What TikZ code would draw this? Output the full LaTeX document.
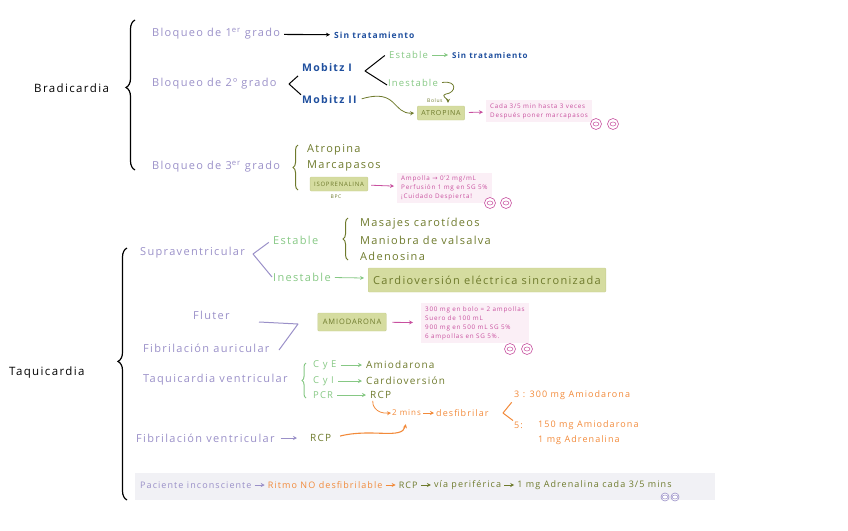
\documentclass[tikz,border=0pt]{standalone}
\usepackage{fontspec}
\setmainfont{Open Sans}[LetterSpace=12]
\newfontfamily\symfont{DejaVu Sans}
\newcommand{\flecha}{{\symfont →}}
\usetikzlibrary{arrows.meta,decorations.pathreplacing,positioning}

\definecolor{cLav}{HTML}{9A90C8}
\definecolor{cBlue}{HTML}{1F4F9E}
\definecolor{cGrn}{HTML}{86C884}
\definecolor{cOlv}{HTML}{6E7A2C}
\definecolor{cOlvFill}{HTML}{D5DCA0}
\definecolor{cPnk}{HTML}{C8509F}
\definecolor{cPnkFill}{HTML}{FBEFF6}
\definecolor{cOrg}{HTML}{F28A3A}
\definecolor{cGry}{HTML}{F1F1F5}

\tikzset{
  txt/.style={anchor=west, inner sep=1pt},
  hdr/.style={txt, black, font=\fontsize{11.5}{13}\selectfont},
  lavtxt/.style={txt, cLav, font=\fontsize{11}{13}\selectfont},
  bluetxt/.style={txt, cBlue, font=\fontsize{8.5}{10}\selectfont\bfseries},
  grntxt/.style={txt, cGrn, font=\fontsize{9.5}{11}\selectfont},
  olvtxt/.style={txt, cOlv, font=\fontsize{11}{13}\selectfont},
  orgtxt/.style={txt, cOrg, font=\small},
  olvbox/.style={fill=cOlvFill, draw=cOlvFill!85!cOlv, text=cOlv, rounded corners=1pt,
    font=\scriptsize, inner xsep=4pt, inner ysep=3pt, minimum height=14pt},
  pnkbox/.style={anchor=west, fill=cPnkFill, text=cPnk, align=left, font=\fontsize{6.3}{9}\selectfont,
    inner xsep=4pt, inner ysep=3pt},
  stk/.style={circle, draw=#1, fill=white, line width=0.6pt, minimum size=11pt, inner sep=0pt,
    path picture={\draw[#1, line width=0.5pt] (path picture bounding box.center) ellipse (3pt and 2pt);}},
  stk/.default=cPnk,
  arr/.style={-{Stealth[length=4pt,width=4pt]}, line width=0.8pt, shorten <=3pt, shorten >=3pt},
  chev/.style={line width=1pt, line join=round, shorten <=4pt, shorten >=0pt},
  brc/.style={decorate, line width=#1},
  brc/.default=1.2pt
}

\begin{document}
\begin{tikzpicture}[x=1pt, y=-1pt]
  \useasboundingbox (0,0) rectangle (848,530);

  % -- Bradicardia --
  \node[hdr] (brad) at (33,88) {Bradicardia};
  \draw[brc, decoration={brace, amplitude=9pt, aspect=0.55}] (135,170) -- (135,20);

  % primer grado
  \node[lavtxt] (blq1) at (151,34) {Bloqueo de 1\textsuperscript{er} grado};
  \node[bluetxt] (sintr1) at (333,35) {Sin tratamiento};
  \draw[arr, black, line width=1.1pt] (blq1) -- (sintr1);

  % segundo grado
  \node[lavtxt] (blq2) at (151,84) {Bloqueo de 2º grado};
  \node[bluetxt, font=\fontsize{10.5}{12}\selectfont\bfseries] (mob1) at (301,68) {Mobitz I};
  \node[bluetxt, font=\fontsize{10.5}{12}\selectfont\bfseries] (mob2) at (301,100) {Mobitz II};
  \coordinate (ch2) at (289,84);
  \draw[chev, black] (mob1.south west) -- (ch2) -- (mob2.north west);

  \node[grntxt] (est1) at (388,55) {Estable};
  \node[bluetxt, font=\fontsize{8}{10}\selectfont\bfseries] (sintr2) at (451,55) {Sin tratamiento};
  \draw[arr, cGrn] (est1) -- (sintr2);
  \node[grntxt] (inest1) at (387,83) {Inestable};
  \coordinate (ch3) at (365,71);
  \draw[chev, black] ([yshift=2pt]est1.west) -- (ch3) -- ([yshift=-2pt]inest1.west);

  \node[olvbox] (atro) at (441,113) {ATROPINA};
  \node[txt, cOlv, font=\tiny] (bolus) at (426,101) {Bolus};
  \draw[arr, cOlv, shorten <=4pt] (mob2.east) .. controls (398,88) and (392,114) .. (atro.west);
  \draw[arr, cOlv] (inest1.east) .. controls (458,80) and (456,93) .. (446,94)
    .. controls (440,96) and (448,99) .. ([xshift=7pt]atro.north);

  \node[pnkbox] (cada) at (486,111) {Cada 3/5 min hasta 3 veces\\Después poner marcapasos};
  \draw[arr, cPnk, shorten <=4pt] (atro) -- (cada);
  \node[stk] (s1) at (596,124) {};
  \node[stk] (s2) at (613,124) {};

  % tercer grado
  \node[lavtxt] (blq3) at (151,167) {Bloqueo de 3\textsuperscript{er} grado};
  \draw[brc=1pt, cOlv, decoration={brace, amplitude=5pt}] (298,190) -- (298,145);
  \node[olvtxt] (atrp) at (306,150) {Atropina};
  \node[olvtxt] (marc) at (306,166) {Marcapasos};
  \node[olvbox, font=\fontsize{6}{7}\selectfont] (iso) at (339,184) {ISOPRENALINA};
  \node[txt, cOlv, font=\tiny, anchor=north] (bpc) at (336,194) {BPC};
  \node[pnkbox] (ampo) at (397,188) {Ampolla \flecha{} 0'2 mg/mL\\Perfusión 1 mg en SG 5\%\\¡Cuidado Despierta!};
  \draw[arr, cPnk] (iso) -- (ampo);
  \node[stk] (s3) at (490,203) {};
  \node[stk] (s4) at (506,203) {};

  % -- Taquicardia --
  \node[hdr] (taqui) at (8,373) {Taquicardia};
  \draw[brc, decoration={brace, amplitude=9pt, aspect=0.55}] (127,500) -- (127,248);

  % supraventricular
  \node[lavtxt] (supra) at (139,253) {Supraventricular};
  \node[grntxt, font=\fontsize{11}{13}\selectfont] (est2) at (272,240) {Estable};
  \node[grntxt, font=\fontsize{11}{13}\selectfont] (inest2) at (272,277) {Inestable};
  \coordinate (ch4) at (253,254);
  \draw[chev, cLav] (est2.west) -- (ch4) -- (inest2.west);
  \draw[brc=1pt, cOlv, decoration={brace, amplitude=5pt}] (348,260) -- (348,218);
  \node[olvtxt] (masa) at (359,224) {Masajes carotídeos};
  \node[olvtxt] (mani) at (359,240) {Maniobra de valsalva};
  \node[olvtxt] (aden) at (359,256) {Adenosina};
  \node[olvbox, anchor=west, font=\fontsize{11}{13}\selectfont, minimum height=24pt, inner xsep=5pt] (cves) at (368,280)
    {Cardioversión eléctrica sincronizada};
  \draw[arr, cGrn, shorten >=4pt] (inest2) -- (cves);

  % flutter y FA
  \node[lavtxt] (flut) at (192,315) {Fluter};
  \node[lavtxt] (fa) at (142,348) {Fibrilación auricular};
  \coordinate (fl) at (298,324);
  \draw[chev, cLav, shorten <=0pt] (259,322) -- (fl) -- (279,350);
  \node[olvbox, font=\fontsize{7.5}{9}\selectfont, minimum height=18pt, inner xsep=5pt] (amio) at (352,322) {AMIODARONA};
  \node[pnkbox] (bolo) at (421,323)
    {300 mg en bolo = 2 ampollas\\Suero de 100 mL\\900 mg en 500 mL SG 5\%\\6 ampollas en SG 5\%.};
  \draw[arr, cPnk, shorten <=6pt, shorten >=8pt] (amio) -- (bolo);
  \node[stk] (s5) at (510,349) {};
  \node[stk] (s6) at (527,349) {};

  % taquicardia ventricular
  \node[lavtxt] (tv) at (142,380) {Taquicardia ventricular};
  \draw[brc=1pt, cGrn, decoration={brace, amplitude=4pt}] (306,398) -- (306,363);
  \node[grntxt] (cye) at (312,365) {C y E};
  \node[olvtxt, font=\fontsize{10}{12}\selectfont] (amio2) at (365,365) {Amiodarona};
  \node[grntxt] (cyi) at (312,381) {C y I};
  \node[olvtxt, font=\fontsize{10}{12}\selectfont] (cardio) at (365,381) {Cardioversión};
  \node[grntxt] (pcr) at (312,395) {PCR};
  \node[olvtxt, font=\fontsize{10}{12}\selectfont] (rcp1) at (369,395) {RCP};
  \draw[arr, cGrn] (cye) -- (amio2);
  \draw[arr, cGrn] (cyi) -- (cardio);
  \draw[arr, cGrn] (pcr) -- (rcp1);

  \node[orgtxt, font=\footnotesize] (dosm) at (391,413) {2 mins};
  \node[orgtxt] (desf) at (435,413) {desfibrilar};
  \draw[arr, cOrg, shorten <=1pt, shorten >=1pt] (dosm) -- (desf);
  \draw[arr, cOrg, shorten <=1pt, shorten >=0pt] ([xshift=4pt]rcp1.south west) .. controls (372,404) and (375,414) .. (dosm.west);

  \node[orgtxt] (tres) at (513,395) {3 : 300 mg Amiodarona};
  \node[orgtxt] (cinco) at (513,425) {5:};
  \node[orgtxt] (cincoa) at (537,425) {150 mg Amiodarona};
  \node[orgtxt] (adre) at (537,440) {1 mg Adrenalina};
  \coordinate (ch5) at (503,413);
  \draw[chev, cOrg, shorten <=2pt] (tres.south west) -- (ch5) -- (cinco.north west);

  % fibrilacion ventricular
  \node[lavtxt] (fv) at (135,438) {Fibrilación ventricular};
  \node[olvtxt, font=\fontsize{10}{12}\selectfont] (rcp2) at (309,438) {RCP};
  \draw[arr, cLav, shorten <=5pt, shorten >=12pt] (fv) -- (rcp2);
  \draw[arr, cOrg, line width=1.1pt, shorten <=8pt] (rcp2.east) .. controls (372,428) and (402,440) .. ([yshift=-4pt]dosm.south);

  % -- Paciente inconsciente --
  \node[fill=cGry, minimum width=580pt, minimum height=27pt, anchor=north west, inner sep=0pt] (pie) at (135,473) {};
  \node[lavtxt, font=\small] (pac) at (139,485) {Paciente inconsciente};
  \node[orgtxt, right=14pt of pac] (ritmo) {Ritmo NO desfibrilable};
  \node[olvtxt, font=\small, right=14pt of ritmo] (rcp3) {RCP};
  \node[olvtxt, font=\small, right=14pt of rcp3] (via) {vía periférica};
  \node[olvtxt, font=\small, right=14pt of via] (adre2) {1 mg Adrenalina cada 3/5 mins};
  \draw[arr, cLav, shorten <=2pt, shorten >=2pt] (pac) -- (ritmo);
  \draw[arr, cOrg, shorten <=2pt, shorten >=2pt] (ritmo) -- (rcp3);
  \draw[arr, cOlv, shorten <=2pt, shorten >=2pt] (rcp3) -- (via);
  \draw[arr, cOlv, shorten <=2pt, shorten >=2pt] (via) -- (adre2);
  \node[stk=cLav, minimum size=8pt] (s7) at (665,497) {};
  \node[stk=cLav, minimum size=8pt] (s8) at (675,497) {};

\end{tikzpicture}
\end{document}
